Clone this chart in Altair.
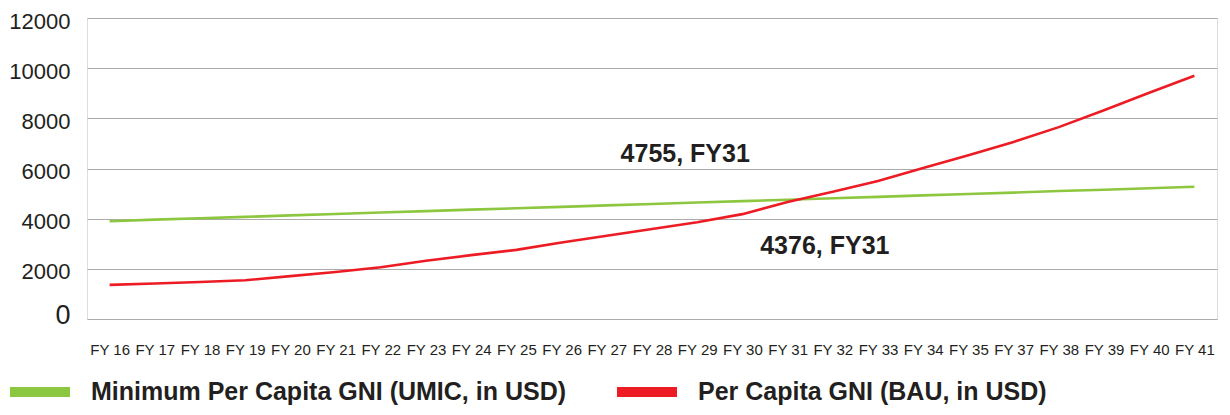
import altair as alt
import pandas as pd

years = ["FY 16", "FY 17", "FY 18", "FY 19", "FY 20", "FY 21", "FY 22", "FY 23",
         "FY 24", "FY 25", "FY 26", "FY 27", "FY 28", "FY 29", "FY 30", "FY 31",
         "FY 32", "FY 33", "FY 34", "FY 35", "FY 37", "FY 38", "FY 39", "FY 40", "FY 41"]
umic = [3900, 3960, 4015, 4070, 4130, 4185, 4245, 4300, 4360, 4415, 4470, 4530, 4585,
        4645, 4700, 4755, 4815, 4870, 4930, 4985, 5040, 5100, 5155, 5215, 5270]
bau = [1360, 1415, 1475, 1545, 1710, 1875, 2065, 2320, 2545, 2755, 3050, 3320, 3590,
       3855, 4180, 4665, 5070, 5500, 6020, 6525, 7060, 7650, 8325, 9020, 9700]

name_umic = "Minimum Per Capita GNI (UMIC, in USD)"
name_bau = "Per Capita GNI (BAU, in USD)"
series_names = [name_umic, name_bau]
series_colors = ["#8dc63f", "#ed1c24"]

ann1_text = ["4755, FY31"]
ann1_year = ["FY 29"]
ann1_value = [6560]
ann2_text = ["4376, FY31"]
ann2_year = ["FY 32"]
ann2_value = [2900]

y_ticks = [0, 2000, 4000, 6000, 8000, 10000, 12000]

df = pd.DataFrame({
    "year": years * 2,
    "value": umic + bau,
    "series": [name_umic] * len(years) + [name_bau] * len(years),
})

TXT = "#231f20"

x_enc = alt.X("year:O", sort=years, scale=alt.Scale(type="point", padding=0.5),
              axis=alt.Axis(title=None, labelAngle=0, ticks=False, domain=False, grid=False,
                            labelFont="Liberation Sans", labelFontSize=15,
                            labelColor=TXT, labelPadding=23))
y_enc = alt.Y("value:Q", scale=alt.Scale(domain=[0, 12000], nice=False),
              axis=alt.Axis(title=None, values=y_ticks, ticks=False, domain=False, format="d",
                            grid=True, gridColor="#ababab", gridWidth=1.2,
                            labelFont="Liberation Sans", labelColor=TXT,
                            labelFontSize=alt.ExprRef("datum.value == 0 ? 27 : 22"),
                            labelOffset=alt.ExprRef("datum.value == 0 ? -4 : 3"),
                            labelPadding=17))
color_enc = alt.Color("series:N",
                      scale=alt.Scale(domain=series_names, range=series_colors),
                      legend=alt.Legend(title=None, orient="none", direction="horizontal",
                                        legendX=-82, legendY=339,
                                        symbolType="stroke",
                                        symbolSize=3600, symbolStrokeWidth=10,
                                        labelFont="Liberation Sans", labelFontWeight="bold",
                                        labelFontSize=25, labelColor=TXT, labelLimit=1000,
                                        labelOffset=16, columnPadding=30, padding=0))

base = alt.Chart(df).mark_line(strokeWidth=2.6).encode(x=x_enc, y=y_enc, color=color_enc)
green = base.transform_filter(alt.datum.series == name_umic)
red = base.transform_filter(alt.datum.series == name_bau)

a1 = alt.Chart(pd.DataFrame({"t": ann1_text, "year": ann1_year, "v": ann1_value})).mark_text(
    font="Liberation Sans", fontWeight="bold", fontSize=25, color=TXT, dx=-12,
    align="center", baseline="middle").encode(
    x=alt.X("year:O", sort=years), y=alt.Y("v:Q"), text="t:N")
a2 = alt.Chart(pd.DataFrame({"t": ann2_text, "year": ann2_year, "v": ann2_value})).mark_text(
    font="Liberation Sans", fontWeight="bold", fontSize=25, color=TXT, dx=-8,
    align="center", baseline="middle").encode(
    x=alt.X("year:O", sort=years), y=alt.Y("v:Q"), text="t:N")

chart = alt.layer(green, red, a1, a2).properties(
    width=1130, height=301,
    autosize=alt.AutoSizeParams(type="none"),
    padding={"left": 79, "top": 10, "right": 5, "bottom": 88},
).configure_view(stroke=None).configure(background="white")

chart.save("out.html", embed_options={"renderer": "svg", "actions": False})
